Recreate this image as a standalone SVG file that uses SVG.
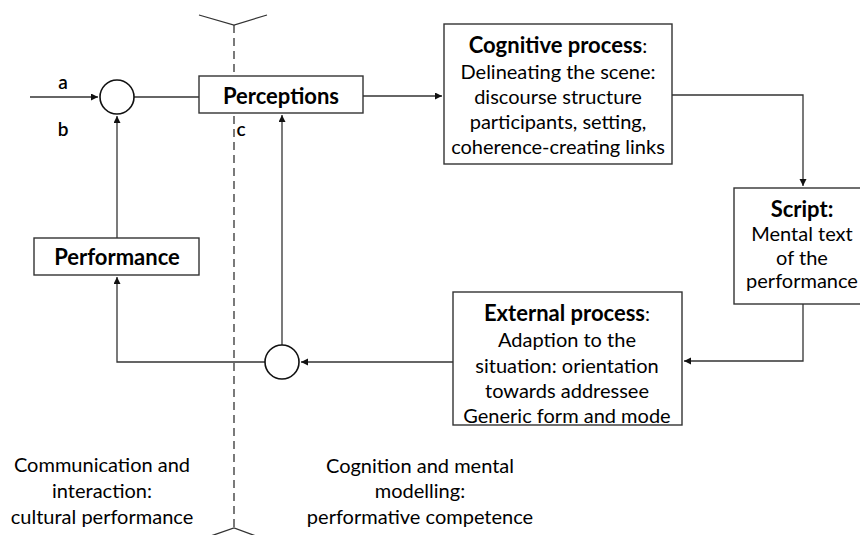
<svg xmlns="http://www.w3.org/2000/svg" width="860" height="535" viewBox="0 0 860 535">
<style>
.box{fill:#fff;stroke:#333;stroke-width:1.4}
.circ{fill:#fff;stroke:#111;stroke-width:1.6}
.ln{fill:none;stroke:#333;stroke-width:1.3}
.dash{fill:none;stroke:#333;stroke-width:1.3;stroke-dasharray:8 5}
text{font-family:Lato,"Liberation Sans",sans-serif;font-size:20px;fill:#000;text-anchor:middle}
.b{font-weight:bold;font-size:22px}
.lbl{font-size:19px;font-weight:600}
</style>
<defs>
<marker id="ah" markerWidth="8" markerHeight="8" refX="7" refY="3.5" orient="auto" markerUnits="userSpaceOnUse">
<path d="M0,0 L7,3.5 L0,7 Z" fill="#111"/>
</marker>
</defs>
<rect width="860" height="535" fill="#fff"/>
<g id="divider">
<path class="ln" d="M199,15 L234,25 L267,15"/>
<path class="dash" d="M234,25 L234,528"/>
<path class="ln" d="M199,540 L234,528 L267,540"/>
</g>
<g id="connectors">
<path class="ln" d="M30,97 L98,97" marker-end="url(#ah)"/>
<path class="ln" d="M134,97 L199,97"/>
<path class="ln" d="M363,96 L442,96" marker-end="url(#ah)"/>
<path class="ln" d="M672,95 L803,95 L803,186" marker-end="url(#ah)"/>
<path class="ln" d="M803,304 L803,361 L684,361" marker-end="url(#ah)"/>
<path class="ln" d="M453,362 L301,362" marker-end="url(#ah)"/>
<path class="ln" d="M265,362 L117,362 L117,277" marker-end="url(#ah)"/>
<path class="ln" d="M117,238 L117,116" marker-end="url(#ah)"/>
<path class="ln" d="M282,345 L282,115" marker-end="url(#ah)"/>
<text class="lbl" x="63" y="89">a</text>
<text class="lbl" x="63" y="136">b</text>
<text class="lbl" x="241" y="136">c</text>
</g>
<g id="sum-top"><circle class="circ" cx="117" cy="97" r="17"/></g>
<g id="sum-bottom"><circle class="circ" cx="282" cy="362" r="17"/></g>
<g id="perceptions">
<rect class="box" x="199" y="76" width="164" height="37"/>
<text class="b" x="281" y="104">Perceptions</text>
</g>
<g id="cognitive">
<rect class="box" x="444" y="24" width="228" height="140"/>
<text x="558" y="53"><tspan class="b">Cognitive process</tspan>:</text>
<text x="558" y="79">Delineating the scene:</text>
<text x="558" y="104">discourse structure</text>
<text x="558" y="129">participants, setting,</text>
<text x="558" y="154">coherence-creating links</text>
</g>
<g id="script">
<rect class="box" x="734" y="188" width="140" height="116"/>
<text class="b" x="802" y="217">Script:</text>
<text x="802" y="241">Mental text</text>
<text x="802" y="265">of the</text>
<text x="802" y="288">performance</text>
</g>
<g id="external">
<rect class="box" x="453" y="292" width="229" height="133"/>
<text x="567" y="321"><tspan class="b">External process</tspan>:</text>
<text x="567" y="347">Adaption to the</text>
<text x="567" y="373">situation: orientation</text>
<text x="567" y="398">towards addressee</text>
<text x="567" y="423">Generic form and mode</text>
</g>
<g id="performance">
<rect class="box" x="34" y="238" width="165" height="37"/>
<text class="b" x="117" y="265">Performance</text>
</g>
<g id="left-caption">
<text x="102" y="472">Communication and</text>
<text x="102" y="498">interaction:</text>
<text x="102" y="524">cultural performance</text>
</g>
<g id="right-caption">
<text x="420" y="473">Cognition and mental</text>
<text x="420" y="498">modelling:</text>
<text x="420" y="524">performative competence</text>
</g>
</svg>
